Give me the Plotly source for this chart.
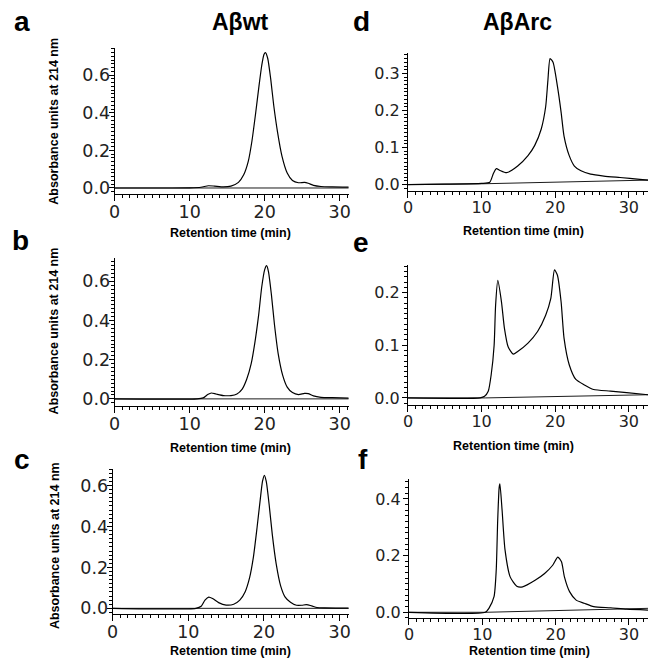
import plotly.graph_objects as go

W, H = 650, 663

# ---------------- data ----------------
# Panel a: Abeta wt
a_x = [0, 10, 11.5, 12.5, 13.3, 14.5, 15.5, 16.5, 17.2, 17.8, 18.3, 18.8, 19.2, 19.6, 19.9, 20.1,
       20.4, 20.8, 21.2, 21.7, 22.3, 23, 23.7, 24.5, 25.3, 25.8, 26.5, 27.5, 29, 31.2]
a_y = [0, 0.001, 0.004, 0.012, 0.01, 0.006, 0.01, 0.03, 0.07, 0.14, 0.25, 0.4, 0.53, 0.65, 0.71, 0.72,
       0.69, 0.58, 0.44, 0.3, 0.17, 0.08, 0.04, 0.028, 0.03, 0.025, 0.014, 0.008, 0.006, 0.005]
# Panel b: Abeta wt
b_x = [0, 11, 11.8, 12.4, 12.9, 13.5, 14.5, 15.5, 16.3, 17, 17.6, 18.2, 18.7, 19.2, 19.6, 20, 20.25,
       20.5, 20.9, 21.3, 21.8, 22.4, 23, 23.7, 24.5, 25.3, 25.8, 26.5, 27.5, 29, 31.2]
b_y = [0, 0, 0.005, 0.022, 0.03, 0.025, 0.017, 0.017, 0.025, 0.05, 0.1, 0.18, 0.29, 0.43, 0.57, 0.66, 0.68,
       0.65, 0.53, 0.38, 0.23, 0.12, 0.06, 0.032, 0.022, 0.028, 0.027, 0.015, 0.008, 0.006, 0.004]
# Panel c: Abeta wt
c_x = [0, 11, 11.7, 12.2, 12.7, 13.2, 14, 15, 16, 16.8, 17.5, 18.1, 18.6, 19.1, 19.5, 19.8, 20.05,
       20.3, 20.7, 21.1, 21.6, 22.2, 22.8, 23.5, 24.3, 25, 25.6, 26.3, 27, 28, 31.2]
c_y = [0, 0, 0.01, 0.04, 0.055, 0.048, 0.028, 0.016, 0.02, 0.04, 0.08, 0.15, 0.25, 0.4, 0.53, 0.62, 0.65,
       0.62, 0.5, 0.36, 0.22, 0.11, 0.055, 0.03, 0.015, 0.015, 0.018, 0.012, 0.004, 0.002, 0.001]
# Panel d: Abeta Arc
d_x = [0, 5, 10, 11.1, 11.6, 12.0, 12.5, 13.4, 14.9, 16.3, 17.2, 18.1, 18.7, 19.0, 19.3, 19.7, 20.3,
       20.8, 21.2, 21.9, 22.6, 23.5, 24.8, 26.6, 28.8, 31.5, 32.6]
d_y = [0, 0.001, 0.003, 0.006, 0.03, 0.043, 0.038, 0.032, 0.05, 0.078, 0.105, 0.15, 0.21, 0.28, 0.34, 0.33,
       0.265, 0.195, 0.13, 0.078, 0.05, 0.037, 0.028, 0.023, 0.019, 0.014, 0.012]
# Panel e: Abeta Arc
e_x = [0, 9.8, 10.4, 10.9, 11.3, 11.7, 11.9, 12.2, 12.7, 13.1, 13.6, 14.3, 14.9, 16.3, 17.6, 18.7, 19.4,
       19.9, 20.3, 20.8, 21.2, 21.9, 22.8, 23.9, 25.2, 27.5, 29.7, 32.6]
e_y = [0, 0, 0.003, 0.0125, 0.044, 0.1, 0.176, 0.223, 0.182, 0.132, 0.097, 0.083, 0.088, 0.104, 0.126,
       0.157, 0.189, 0.243, 0.233, 0.182, 0.113, 0.063, 0.035, 0.025, 0.016, 0.013, 0.01, 0.006]
# Panel f: Abeta Arc
f_x = [0, 10.4, 10.9, 11.6, 11.9, 12.1, 12.3, 12.4, 12.7, 13.1, 13.8, 14.7, 15.5, 17.2, 18.5, 19.6,
       20.3, 20.8, 21.2, 21.9, 22.8, 23.9, 25.2, 27.5, 29.7, 32.6]
f_y = [0, 0, 0.014, 0.055, 0.149, 0.325, 0.44, 0.453, 0.36, 0.22, 0.125, 0.092, 0.09, 0.113, 0.137, 0.166,
       0.195, 0.178, 0.125, 0.073, 0.043, 0.032, 0.02, 0.016, 0.011, 0.008]

# integration baselines
a_base_x, a_base_y = [0, 31.2], [0, 0]
b_base_x, b_base_y = [0, 31.2], [0, 0]
c_base_x, c_base_y = [0, 31.2], [0, 0]
d_base_x, d_base_y = [0, 10, 32.6], [0, 0.002, 0.012]
e_base_x, e_base_y = [0, 10.5, 32.6], [0, 0, 0.006]
f_base_x, f_base_y = [0, 10.5, 32.6], [0, 0, 0.014]

panel_letters = ["a", "b", "c", "d", "e", "f"]
column_titles = ["Aβwt", "AβArc"]
x_title = "Retention time (min)"
y_title = "Absorbance units at 214 nm"
x_tickvals = [0, 10, 20, 30]

# ---------------- layout ----------------
# (x0px, x1px, top px, bottom px, y range, y dtick, y minor dtick, x range, tick font size, y label standoff)
panels = [
    (110, 347, 48, 195, [-0.031, 0.746], 0.2, 0.02, [0, 31.2], 17.5, -5, a_x, a_y, a_base_x, a_base_y),
    (110, 347, 260, 408, [-0.034, 0.717], 0.2, 0.02, [0, 31.2], 17.5, -5, b_x, b_y, b_base_x, b_base_y),
    (108, 347, 472, 618, [-0.029, 0.68], 0.2, 0.02, [0, 31.2], 17.5, -5, c_x, c_y, c_base_x, c_base_y),
    (407, 650, 53, 192, [-0.017, 0.356], 0.1, 0.01, [0, 32.6], 16, -1, d_x, d_y, d_base_x, d_base_y),
    (407, 650, 267, 407, [-0.0126, 0.2516], 0.1, 0.01, [0, 32.6], 16, -1, e_x, e_y, e_base_x, e_base_y),
    (408, 650, 482, 622, [-0.021, 0.47], 0.2, 0.02, [0, 32.6], 16, -1, f_x, f_y, f_base_x, f_base_y),
]

fig = go.Figure()
layout = {}
for i, (x0, x1, top, bot, yr, ydt, ymin, xr, fs, ysto, xs, ys, bx, by) in enumerate(panels):
    n = "" if i == 0 else str(i + 1)
    xa, ya = "x" + n, "y" + n
    tickfont = dict(family="DejaVu Sans", size=fs, color="#222")
    fig.add_trace(go.Scatter(x=xs, y=ys, xaxis=xa, yaxis=ya, mode="lines",
                             line=dict(color="black", width=1.2, shape="spline", smoothing=0.6),
                             showlegend=False, hoverinfo="skip"))
    fig.add_trace(go.Scatter(x=bx, y=by, xaxis=xa, yaxis=ya, mode="lines",
                             line=dict(color="black", width=0.9),
                             showlegend=False, hoverinfo="skip"))
    layout["xaxis" + n] = dict(
        domain=[x0 / W, x1 / W], range=xr, anchor=ya, showline=True, linecolor="black",
        linewidth=1, ticks="outside", ticklen=6, tickcolor="black", tickwidth=1,
        tickvals=x_tickvals, tickfont=tickfont, showgrid=False, zeroline=False,
        ticklabelstandoff=-4,
        minor=dict(ticks="outside", dtick=1, ticklen=3, tickcolor="black", tickwidth=1, showgrid=False),
        fixedrange=True)
    layout["yaxis" + n] = dict(
        domain=[1 - bot / H, 1 - top / H], range=yr, anchor=xa, showline=True, linecolor="black",
        linewidth=1, ticks="outside", ticklen=5, tickcolor="black", tickwidth=1,
        tick0=0, dtick=ydt, tickformat=".1f", tickfont=tickfont, showgrid=False, zeroline=False,
        ticklabelstandoff=ysto,
        minor=dict(ticks="outside", dtick=ymin, tick0=0, ticklen=2.5, tickcolor="black",
                   tickwidth=0.8, showgrid=False),
        fixedrange=True)

ann = []
def text(x, y, s, size, bold=True, angle=0, family="Liberation Sans"):
    ann.append(dict(x=x / W, y=1 - y / H, xref="paper", yref="paper", text=("<b>%s</b>" % s) if bold else s,
                    showarrow=False, xanchor="center", yanchor="middle", textangle=angle,
                    font=dict(family=family, size=size, color="black")))

letter_pos = [(16, 22), (15, 242), (16, 462), (360, 22), (359, 244), (361, 462)]
for s, (x, y) in zip(panel_letters, letter_pos):
    text(x, y, s, 28)
text(237, 22, column_titles[0], 23)
text(518, 22, column_titles[1], 23)

xt_pos = [(227, 234), (227, 451), (227, 655), (524, 232), (514, 449), (530, 655)]
for (x, y) in xt_pos:
    text(x, y, x_title, 12.5)
for y in [122, 333, 549]:
    text(49, y, y_title, 12.5, angle=-90)

fig.update_layout(**layout)
fig.update_layout(width=W, height=H, margin=dict(l=0, r=0, t=0, b=0),
                  paper_bgcolor="white", plot_bgcolor="white", annotations=ann, showlegend=False)
fig.write_html("out.html", config={"displayModeBar": False},
               post_script="document.body.style.margin='0';document.body.style.overflow='hidden';")
